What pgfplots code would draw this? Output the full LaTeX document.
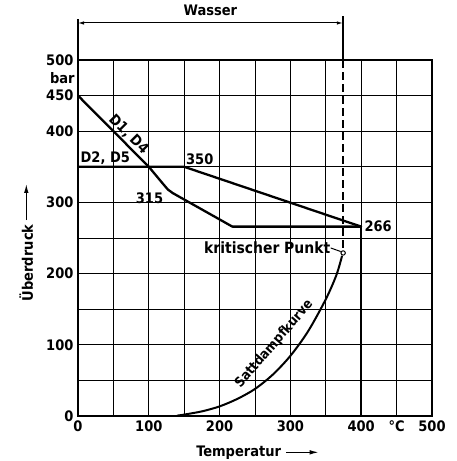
\documentclass[border=0pt]{standalone}
\usepackage{fontspec}
\setmainfont{DejaVu Sans Condensed}
\usepackage{pgfplots}
\pgfplotsset{compat=1.18}
\usetikzlibrary{arrows.meta}
\begin{document}
\begin{tikzpicture}
\useasboundingbox (-78pt,-45pt) rectangle (378pt,416pt);
\begin{axis}[
  scale only axis, width=354pt, height=356pt,
  xmin=0, xmax=500, ymin=0, ymax=500,
  xtick={0,50,...,500}, ytick={0,50,...,500},
  xticklabels={0,,100,,200,,300,,400,{°C},500},
  yticklabels={0,,100,,200,,300,,400,450,500},
  grid=major, grid style={black, line width=0.9pt},
  axis line style={line width=1.1pt},
  major tick length=0pt,
  tick label style={font=\fontsize{14.5}{15}\selectfont\bfseries},
  xticklabel style={yshift=-1pt},
  yticklabel style={xshift=-1pt},
  /pgf/number format/assume math mode=true,
  clip=false,
  every axis plot/.append style={black, line width=2.3pt, line join=round},
]
% D1, D4
\addplot[black, mark=none, line cap=round] coordinates {(0,450) (100,350) (121,325) (127,318) (134,313) (218,266) (400,266)};
% D2, D5
\addplot[black, mark=none] coordinates {(0,350) (150,350) (400,266)};
\addplot[black, mark=none] coordinates {(400,266) (400,0)};
% Sattdampfkurve
\addplot[black, mark=none, smooth, line width=2pt] coordinates {(140,0.5) (150,2.0) (175,6.5) (200,13.5) (225,24) (250,38) (275,58) (300,84.5) (325,119) (350,164) (365,198) (373,225)};
% critical point
\addplot[black, only marks, mark=o, mark size=2.2pt, mark options={line width=1pt, fill=white}] coordinates {(374.5,229)};
% dashed vertical
\addplot[black, mark=none, line width=2pt, dash pattern=on 8pt off 4pt] coordinates {(374,500) (374,233)};
\addplot[black, mark=none, line width=1.5pt] coordinates {(374,500) (374,562)};
\addplot[black, mark=none, line width=1.5pt] coordinates {(0,500) (0,557)};
\addplot[black, mark=none, line width=1pt, {Latex[length=6pt,width=3.5pt]}-{Latex[length=6pt,width=3.5pt]}] coordinates {(0,552) (374,552)};
% leader to critical point
\addplot[black, mark=none, line width=1pt] coordinates {(357,236) (371,231)};
% y-label arrow
\addplot[black, mark=none, line width=1.2pt, -{Latex[length=9pt,width=4.5pt]}] coordinates {(-73,275) (-73,326)};
% x-label arrow
\addplot[black, mark=none, line width=1.2pt, -{Latex[length=9pt,width=4.5pt]}] coordinates {(294,-51) (340,-51)};

\begin{scope}[every node/.style={font=\fontsize{14.5}{15}\selectfont\bfseries, inner sep=1pt}]
\node at (axis cs:187,570) {Wasser};
\node[anchor=east] at (axis cs:-3,474) {bar};
\node[rotate=-45, anchor=south] at (axis cs:64,388) {D1, D4};
\node[anchor=south west] at (axis cs:2,351) {D2, D5};
\node[anchor=south west] at (axis cs:151,351) {350};
\node at (axis cs:101,306) {315};
\node[anchor=west] at (axis cs:403,267) {266};
\node[anchor=east, font=\fontsize{15.5}{16}\selectfont\bfseries] at (axis cs:358,236) {kritischer Punkt};
\node[rotate=49, font=\fontsize{13.5}{14}\selectfont\bfseries] at (axis cs:277,101) {Sattdampfkurve};
\node at (axis cs:227,-51) {Temperatur};
\node[rotate=90] at (axis cs:-73,215) {Überdruck};
\end{scope}
\end{axis}
\end{tikzpicture}
\end{document}
